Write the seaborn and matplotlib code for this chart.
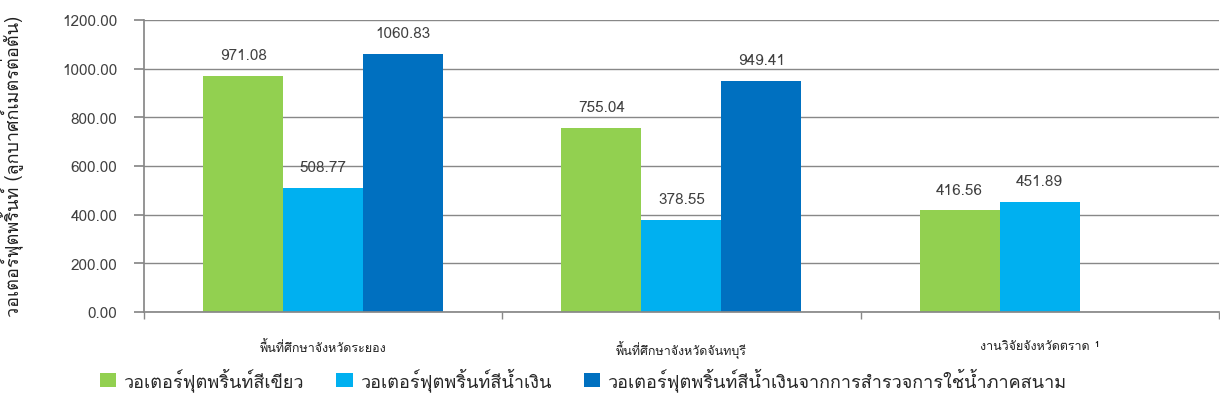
import numpy as np
import pandas as pd
import matplotlib
matplotlib.use("Agg")
import matplotlib.pyplot as plt
import matplotlib.font_manager as fm
from matplotlib.ft2font import FT2Font
import seaborn as sns

# Data
areas = ["พื้นที่ศึกษาจังหวัดระยอง", "พื้นที่ศึกษาจังหวัดจันทบุรี", "งานวิจัยจังหวัดตราด ¹"]
series = ["วอเตอร์ฟุตพริ้นท์สีเขียว", "วอเตอร์ฟุตพริ้นท์สีน้ำเงิน",
          "วอเตอร์ฟุตพริ้นท์สีน้ำเงินจากการสำรวจการใช้น้ำภาคสนาม"]
green = [971.08, 755.04, 416.56]
blue = [508.77, 378.55, 451.89]
blue_field = [1060.83, 949.41, np.nan]
colors = ["#92D050", "#00B0F0", "#0070C0"]

df = pd.DataFrame({
    "area": areas * 3,
    "series": [series[0]] * 3 + [series[1]] * 3 + [series[2]] * 3,
    "value": green + blue + blue_field,
})

sns.set_theme(style="white")

# look for any installed font that has Thai glyphs
thai_font = None
for f in fm.fontManager.ttflist:
    try:
        if 0x0E01 in FT2Font(f.fname).get_charmap():
            thai_font = f.name
            break
    except Exception:
        pass
fams = [thai_font, "DejaVu Sans"] if thai_font else ["DejaVu Sans"]
plt.rcParams["font.family"] = fams

fig = plt.figure(figsize=(12.2, 4.1), dpi=100)
ax = fig.add_axes([0.118, 0.237, 0.881, 0.712])

sns.barplot(data=df, x="area", y="value", hue="series", hue_order=series,
            palette=colors, width=0.67, saturation=1, linewidth=0, ax=ax, legend=True)

for cont in ax.containers:
    ax.bar_label(cont, fmt="%.2f", padding=10, fontsize=11, color="#404040")

ax.set_ylim(0, 1200)
ax.set_yticks(np.arange(0, 1201, 200))
ax.set_yticklabels([f"{v:.2f}" for v in np.arange(0, 1201, 200)], fontsize=11, color="#404040")
ax.set_xlim(-0.5, 2.5)
ax.set_xticks(range(3))
ax.set_xticklabels(areas, fontsize=9, color="#202020")
ax.set_xticks([-0.5, 0.5, 1.5, 2.5], minor=True)
ax.tick_params(axis="x", which="major", length=0, pad=20)
ax.tick_params(axis="x", which="minor", length=5, color="#888888", direction="out", bottom=True)
ax.tick_params(axis="y", length=7, color="#888888", direction="out", left=True, pad=12)
ax.yaxis.grid(True, color="#888888", linewidth=1)
ax.set_axisbelow(True)
for s in ["top", "right"]:
    ax.spines[s].set_visible(False)
for s in ["left", "bottom"]:
    ax.spines[s].set_color("#888888")
ax.set_xlabel("")
ax.set_ylabel("วอเตอร์ฟุตพริ้นท์ (ลูกบาศก์เมตรต่อตัน)", fontsize=13, color="#202020", labelpad=28)

handles, labels = ax.get_legend_handles_labels()
ax.get_legend().remove()
fig.legend(handles, labels, loc="center", bbox_to_anchor=(0.478, 0.073), ncol=3,
           frameon=False, fontsize=13, handlelength=0.9, handleheight=0.9,
           handletextpad=0.4, columnspacing=1.8)

fig.savefig("out.png", dpi=100)
